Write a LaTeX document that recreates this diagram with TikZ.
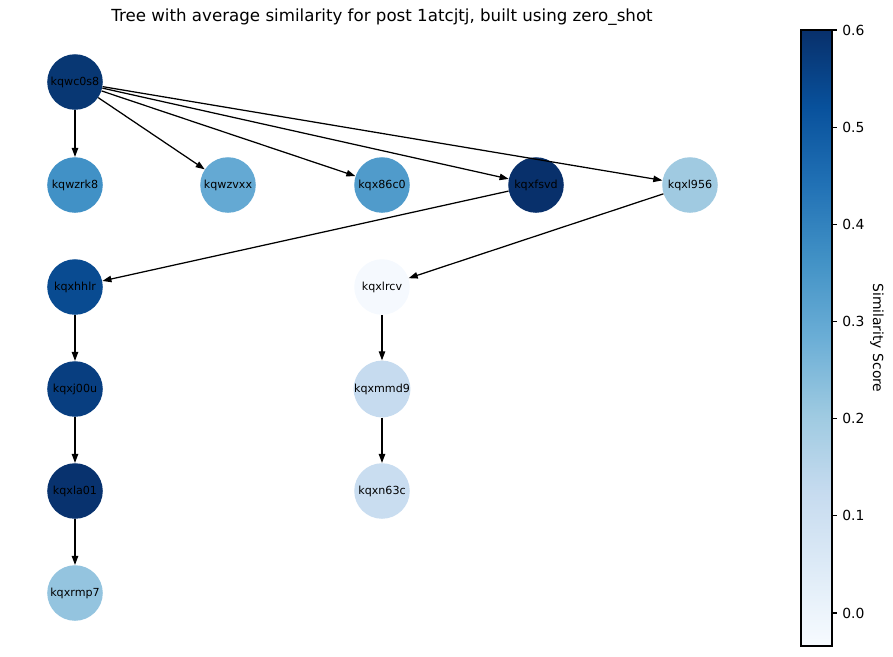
\documentclass[tikz,border=0pt]{standalone}
\usepackage{fontspec}
\setmainfont{DejaVu Sans}
\usetikzlibrary{arrows.meta}

\definecolor{b0}{HTML}{F7FBFF}
\definecolor{b1}{HTML}{DEEBF7}
\definecolor{b2}{HTML}{C6DBEF}
\definecolor{b3}{HTML}{9ECAE1}
\definecolor{b4}{HTML}{6BAED6}
\definecolor{b5}{HTML}{4292C6}
\definecolor{b6}{HTML}{2171B5}
\definecolor{b7}{HTML}{08519C}
\definecolor{b8}{HTML}{08306B}
\pgfdeclareverticalshading{bluesmap}{100bp}{color(0bp)=(b0); color(25bp)=(b0); color(31.25bp)=(b1); color(37.5bp)=(b2); color(43.75bp)=(b3); color(50bp)=(b4); color(56.25bp)=(b5); color(62.5bp)=(b6); color(68.75bp)=(b7); color(75bp)=(b8); color(100bp)=(b8)}

\tikzset{
  treenode/.style={circle, draw=none, inner sep=0pt, minimum size=40pt, font=\fontsize{8}{9}\selectfont},
  treeedge/.style={line width=0.9pt, -{Triangle[length=6.5pt,width=4.6pt]}},
}

\begin{document}
\begin{tikzpicture}[x=0.72pt, y=-0.72pt]
\useasboundingbox (0,0) rectangle (893,656);

\node[font=\fontsize{12}{14}\selectfont] (title) at (382,17) {Tree with average similarity for post 1atcjtj, built using zero\_shot};

\node[treenode, fill={rgb,255:red,8;green,55;blue,115}] (kqwc0s8) at (75,82) {kqwc0s8};

\node[treenode, fill={rgb,255:red,65;green,145;blue,198}] (kqwzrk8) at (75,185) {kqwzrk8};
\node[treenode, fill={rgb,255:red,100;green,169;blue,211}] (kqwzvxx) at (228,185) {kqwzvxx};
\node[treenode, fill={rgb,255:red,80;green,155;blue,203}] (kqx86c0) at (382,185) {kqx86c0};
\node[treenode, fill={rgb,255:red,8;green,48;blue,107}] (kqxfsvd) at (536,185) {kqxfsvd};
\node[treenode, fill={rgb,255:red,160;green,202;blue,225}] (kqxl956) at (690,185) {kqxl956};

\node[treenode, fill={rgb,255:red,9;green,75;blue,145}] (kqxhhlr) at (75,287) {kqxhhlr};
\node[treenode, fill={rgb,255:red,245;green,249;blue,254}] (kqxlrcv) at (382,287) {kqxlrcv};

\node[treenode, fill={rgb,255:red,8;green,62;blue,128}] (kqxj00u) at (75,389) {kqxj00u};
\node[treenode, fill={rgb,255:red,198;green,219;blue,239}] (kqxmmd9) at (382,389) {kqxmmd9};

\node[treenode, fill={rgb,255:red,8;green,50;blue,110}] (kqxla01) at (75,491) {kqxla01};
\node[treenode, fill={rgb,255:red,201;green,221;blue,240}] (kqxn63c) at (382,491) {kqxn63c};

\node[treenode, fill={rgb,255:red,148;green,196;blue,223}] (kqxrmp7) at (75,593) {kqxrmp7};

\draw[treeedge] (kqwc0s8) -- (kqwzrk8);
\draw[treeedge] (kqwc0s8) -- (kqwzvxx);
\draw[treeedge] (kqwc0s8) -- (kqx86c0);
\draw[treeedge] (kqwc0s8) -- (kqxfsvd);
\draw[treeedge] (kqwc0s8) -- (kqxl956);
\draw[treeedge] (kqxfsvd) -- (kqxhhlr);
\draw[treeedge] (kqxl956) -- (kqxlrcv);
\draw[treeedge] (kqxhhlr) -- (kqxj00u);
\draw[treeedge] (kqxj00u) -- (kqxla01);
\draw[treeedge] (kqxla01) -- (kqxrmp7);
\draw[treeedge] (kqxlrcv) -- (kqxmmd9);
\draw[treeedge] (kqxmmd9) -- (kqxn63c);

% colour bar
\shade[shading=bluesmap] (801,30) rectangle (832,646);
\draw[line width=0.8pt] (801,30) rectangle (832,646);
\foreach \v/\lab in {0/0.0, 1/0.1, 2/0.2, 3/0.3, 4/0.4, 5/0.5, 6/0.6} {
  \draw[line width=0.8pt] (832,613-\v*97.17) -- (837,613-\v*97.17);
  \node[anchor=west, inner sep=0pt, font=\fontsize{10}{12}\selectfont] (tick\v) at (842,613-\v*97.17) {\lab};
}
\node[rotate=-90, font=\fontsize{10}{12}\selectfont] (cblabel) at (877,338) {Similarity Score};

\end{tikzpicture}
\end{document}
